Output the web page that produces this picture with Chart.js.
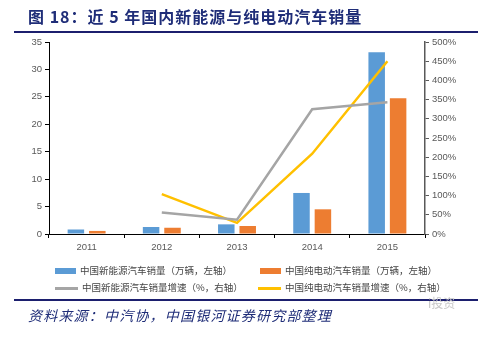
<!DOCTYPE html>
<html>
<head>
<meta charset="utf-8">
<script src="https://cdn.jsdelivr.net/npm/chart.js"></script>
<style>
  html, body { margin: 0; padding: 0; background: #fff; }
  #wrap { position: relative; width: 502px; height: 337px; overflow: hidden; font-family: "Noto Sans CJK SC", sans-serif; }
  #chart { position: absolute; left: 0; top: 0; }
  .title { position: absolute; left: 28px; top: 4px; font-size: 16px; font-weight: bold; color: #1f2d78; letter-spacing: 1px; white-space: nowrap; }
  .rule { position: absolute; left: 14px; width: 464px; height: 2px; background: #1c1f6e; }
  .legend { position: absolute; font-size: 9.5px; color: #444; white-space: nowrap; line-height: 12px; }
  .legend i { display: inline-block; vertical-align: middle; margin-right: 4px; }
  .box { width: 21px; height: 6px; }
  .ln { width: 23px; height: 2.5px; }
  .source { position: absolute; left: 28px; top: 305px; font-size: 14px; font-style: italic; color: #1f2d78; letter-spacing: 1.2px; white-space: nowrap; }
  .mark { position: absolute; left: 428px; top: 294px; font-size: 12px; color: #c8c8c8; }
</style>
</head>
<body>
<div id="wrap">
  <canvas id="chart" width="502" height="337"></canvas>
  <div class="title">图 18：近 5 年国内新能源与纯电动汽车销量</div>
  <div class="rule" style="top:31px"></div>
  <div class="legend" style="left:55px; top:264px"><i class="box" style="background:#5b9bd5"></i>中国新能源汽车销量（万辆，左轴）</div>
  <div class="legend" style="left:260px; top:264px"><i class="box" style="background:#ed7d31"></i>中国纯电动汽车销量（万辆，左轴）</div>
  <div class="legend" style="left:55px; top:281px"><i class="ln" style="background:#a5a5a5"></i>中国新能源汽车销量增速（%，右轴）</div>
  <div class="legend" style="left:258px; top:281px"><i class="ln" style="background:#ffc000"></i>中国纯电动汽车销量增速（%，右轴）</div>
  <div class="rule" style="top:299px"></div>
  <div class="mark">i投资</div>
  <div class="source">资料来源：中汽协，中国银河证券研究部整理</div>
</div>

<script>
  const years = ['2011', '2012', '2013', '2014', '2015'];
  // sales, 10k vehicles (left axis)
  const nevSales = [0.82, 1.28, 1.76, 7.48, 33.11];
  const bevSales = [0.56, 1.14, 1.46, 4.50, 24.75];
  // year-on-year growth, % (right axis)
  const nevGrowth = [null, 56, 37, 325, 343];
  const bevGrowth = [null, 104, 29, 209, 450];

  const tickFont = { family: 'Liberation Sans', size: 9.5 };
  const tickColor = '#595959';

  new Chart(document.getElementById('chart'), {
    type: 'bar',
    data: {
      labels: years,
      datasets: [
        {
          type: 'line',
          label: '中国新能源汽车销量增速（%，右轴）',
          data: nevGrowth,
          yAxisID: 'y1',
          borderColor: '#a5a5a5',
          borderWidth: 2.5,
          pointRadius: 0,
          tension: 0,
          order: 0
        },
        {
          type: 'line',
          label: '中国纯电动汽车销量增速（%，右轴）',
          data: bevGrowth,
          yAxisID: 'y1',
          borderColor: '#ffc000',
          borderWidth: 2.5,
          pointRadius: 0,
          tension: 0,
          order: 0
        },
        {
          label: '中国新能源汽车销量（万辆，左轴）',
          data: nevSales,
          backgroundColor: '#5b9bd5',
          categoryPercentage: 0.57,
          barPercentage: 0.77,
          order: 1
        },
        {
          label: '中国纯电动汽车销量（万辆，左轴）',
          data: bevSales,
          backgroundColor: '#ed7d31',
          categoryPercentage: 0.57,
          barPercentage: 0.77,
          order: 1
        }
      ]
    },
    options: {
      responsive: false,
      animation: false,
      layout: { padding: { left: 0, right: 0, top: 42, bottom: 0 } },
      plugins: {
        legend: { display: false },
        tooltip: { enabled: false }
      },
      scales: {
        x: {
          afterFit: (s) => { s.height = 103; },
          border: { color: '#000', width: 1 },
          grid: { drawOnChartArea: false, offset: true, color: '#000', tickLength: 4 },
          ticks: { font: tickFont, color: tickColor, padding: 4 }
        },
        y: {
          position: 'left',
          min: 0,
          max: 35,
          afterFit: (s) => { s.width = 49; },
          border: { color: '#000', width: 1 },
          grid: { drawOnChartArea: false, color: '#000', tickLength: 4 },
          ticks: { stepSize: 5, font: tickFont, color: tickColor, padding: 3 }
        },
        y1: {
          position: 'right',
          min: 0,
          max: 500,
          afterFit: (s) => { s.width = 77; },
          border: { color: '#595959', width: 1.5 },
          grid: { drawOnChartArea: false, color: '#595959', tickLength: 4 },
          ticks: {
            stepSize: 50,
            font: tickFont,
            color: tickColor,
            padding: 3,
            callback: (v) => v + '%'
          }
        }
      }
    }
  });
</script>
</body>
</html>
